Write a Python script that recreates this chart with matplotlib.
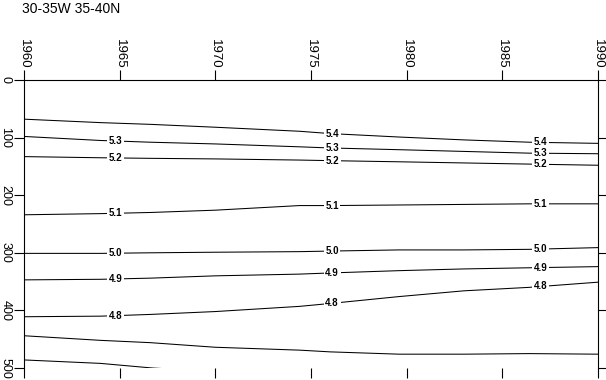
import numpy as np
import matplotlib.pyplot as plt

plt.rcParams['font.family'] = ['Liberation Sans', 'DejaVu Sans']

# isoline depths (m), per year
years = [1960, 1964, 1966.6, 1970, 1974.4, 1976, 1979.6, 1983, 1986.4, 1990]
levels = [5.4, 5.3, 5.2, 5.1, 5.0, 4.9, 4.8, 4.7]
depths = [
    [68, 74, 77, 82, 89, 93, 99, 104, 108, 110],
    [98, 105, 108, 111, 116, 118, 121, 124, 127, 128],
    [133, 135, 136, 137, 139, 140, 142, 144, 146, 148],
    [234, 232, 230, 226, 218, 218, 217, 216, 215, 215],
    [301, 301, 300, 299, 298, 297, 295, 295, 294, 291],
    [347, 346, 344, 340, 337, 335, 331, 328, 326, 324],
    [411, 410, 407, 402, 393, 388, 376, 366, 360, 351],
    [444, 452, 456, 464, 469, 472, 476, 476, 475, 476],
]
labelled = [5.4, 5.3, 5.2, 5.1, 5.0, 4.9, 4.8]
# deepest (4.6) line, leaves the frame near 1967
years_46 = [1960, 1964, 1966.7, 1970]
depth_46 = [486, 492, 500, 506]

label_years = [1964.8, 1976.1, 1987.0]

fig = plt.figure(figsize=(6.06, 3.80), dpi=100)
ax = fig.add_axes([24/606, 12/380, 574/606, 288/380])

for lev, d in zip(levels, depths):
    ax.plot(years, d, color='black', lw=0.75, zorder=2)
    if lev not in labelled:
        continue
    for ly in label_years:
        if ly < 1970 and lev == 5.4:
            continue
        yy = np.interp(ly, years, d)
        ax.text(ly, yy, f'{lev:.1f}', fontsize=7, fontweight='bold',
                ha='center', va='center', zorder=3,
                bbox=dict(fc='white', ec='none', pad=1.2))
ax.plot(years_46, depth_46, color='black', lw=0.75, zorder=2)

ax.set_xlim(1960, 1990)
ax.set_ylim(500, 0)
ax.set_xticks([1960, 1965, 1970, 1975, 1980, 1985, 1990])
ax.set_yticks([0, 100, 200, 300, 400, 500])
ax.tick_params(axis='x', top=True, bottom=True, labeltop=True, labelbottom=False,
               direction='out', length=7, width=0.8, pad=1, labelsize=9.5, labelrotation=-90)
ax.tick_params(axis='y', left=True, right=True, labelleft=True, labelright=False,
               direction='out', length=7, width=0.8, pad=2, labelsize=9, labelrotation=-90)
for lab in ax.get_yticklabels():
    lab.set_va('center')
for s in ['top', 'left', 'right']:
    ax.spines[s].set_linewidth(0.8)
ax.spines['bottom'].set_visible(False)

fig.text(22/606, 1 - 9/380, '30-35W 35-40N', fontsize=10, ha='left', va='center')

fig.savefig('out.png', dpi=100)
